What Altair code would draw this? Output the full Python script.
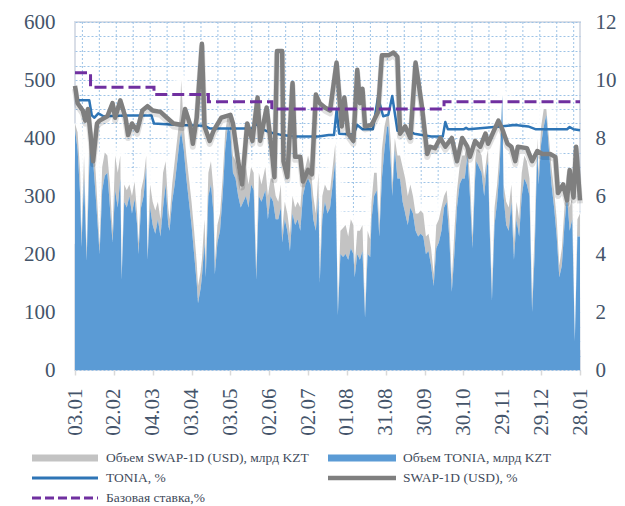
import altair as alt
import pandas as pd

START = pd.Timestamp("2018-01-03")

# ---- volumes (day offset from 03.01.2018), bn KZT ----
vol_days = [0, 2, 4, 5, 7, 9, 11, 12, 14, 16, 19, 21, 23, 25, 27, 29, 31, 33, 35, 36,
            38, 40, 42, 44, 46, 48, 49, 51, 53, 55, 56, 58, 60, 62, 64, 66, 68, 70, 72, 73,
            75, 77, 79, 81, 82, 84, 86, 88, 90, 92, 94, 95, 97, 98, 100, 101, 103, 105, 107, 108,
            110, 112, 114, 116, 118, 120, 122, 124, 126, 128, 130, 132, 134, 136, 138, 140, 142, 144, 147, 149,
            151, 153, 155, 157, 159, 160, 162, 164, 166, 168, 170, 172, 174, 176, 178, 180, 182, 184, 186, 188,
            189, 191, 193, 195, 197, 199, 201, 203, 205, 207, 209, 211, 213, 215, 216, 218, 220, 222, 224, 226,
            228, 229, 231, 233, 235, 237, 239, 241, 242, 244, 245, 247, 249, 251, 253, 255, 257, 259, 261, 263,
            265, 267, 269, 271, 273, 275, 277, 279, 281, 283, 285, 287, 289, 291, 293, 295, 297, 299, 301, 303,
            305, 307, 309, 310, 312, 314, 316, 318, 319, 320, 322, 324, 326, 328, 330, 331, 333, 335, 337, 339,
            341, 343, 345, 347, 349, 351, 353, 355, 357, 358, 360, 362, 364, 366, 368, 370, 372, 374, 376, 378,
            380, 382, 384, 386, 388, 390]
tonia_volume = [415, 380, 300, 212, 330, 188, 350, 390, 360, 300, 200, 310, 335, 340, 280, 220, 310, 280, 330, 155,
                290, 280, 300, 270, 295, 250, 200, 280, 300, 350, 190, 280, 250, 235, 260, 230, 280, 320, 250, 240,
                290, 320, 360, 400, 410, 380, 330, 290, 250, 200, 150, 115, 140, 160, 220, 160, 300, 320, 270, 165,
                220, 240, 300, 380, 420, 410, 340, 330, 300, 280, 290, 300, 280, 320, 310, 155, 300, 290, 310, 260,
                300, 290, 260, 260, 280, 220, 260, 240, 205, 270, 250, 260, 240, 300, 320, 330, 320, 260, 240, 300,
                150, 260, 290, 270, 280, 320, 360, 95, 200, 195, 200, 190, 210, 200, 160, 200, 190, 205, 90, 200,
                195, 260, 300, 310, 230, 330, 380, 420, 420, 350, 300, 380, 330, 330, 290, 270, 250, 280, 270, 240,
                230, 235, 230, 200, 205, 180, 145, 210, 220, 240, 280, 290, 230, 135, 200, 280, 320, 330, 330, 370,
                300, 210, 330, 360, 350, 340, 300, 350, 360, 260, 120, 250, 290, 350, 475, 300, 250, 240, 290, 190,
                260, 230, 300, 330, 320, 300, 100, 200, 380, 320, 390, 420, 440, 380, 320, 280, 230, 160, 180, 250,
                300, 240, 260, 50, 230, 230]
swap_volume = [10, 30, 40, 20, 40, 15, 50, 40, 40, 40, 15, 40, 40, 30, 40, 20, 60, 60, 40, 10,
               30, 30, 20, 30, 30, 20, 20, 30, 30, 20, 10, 40, 40, 40, 30, 30, 60, 40, 30, 20,
               30, 40, 40, 40, 90, 40, 40, 40, 40, 40, 35, 30, 30, 30, 40, 30, 40, 40, 40, 20,
               30, 30, 30, 30, 20, 20, 30, 30, 40, 30, 40, 50, 40, 30, 30, 20, 40, 30, 40, 40,
               30, 40, 40, 30, 40, 20, 30, 30, 30, 30, 30, 30, 40, 40, 30, 40, 30, 40, 30, 40,
               20, 40, 30, 40, 30, 30, 30, 10, 40, 50, 50, 40, 50, 50, 20, 40, 50, 45, 10, 40,
               30, 30, 40, 30, 20, 50, 40, 20, 30, 40, 20, 20, 40, 40, 60, 60, 50, 40, 30, 30,
               40, 40, 40, 30, 30, 30, 20, 40, 40, 40, 20, 20, 30, 20, 40, 30, 30, 40, 40, 20,
               30, 20, 30, 20, 30, 30, 30, 20, 20, 20, 20, 30, 30, 30, 0, 20, 40, 40, 30, 30,
               30, 30, 40, 40, 40, 30, 20, 40, 20, 20, 30, 30, 10, 20, 30, 30, 30, 20, 30, 30,
               40, 40, 40, 0, 30, 40]

# ---- rates, % ----
tonia_days = [0, 11, 13, 15, 18, 22, 40, 59, 61, 80, 100, 104, 137, 140, 143, 150, 160, 170, 188, 196,
              200, 202, 204, 215, 218, 222, 230, 234, 238, 242, 245, 249, 255, 262, 275, 284, 286, 288, 300, 302,
              304, 328, 340, 350, 356, 380, 382, 385, 390]
tonia_rate = [9.3, 9.3, 8.78, 8.7, 8.85, 8.75, 8.78, 8.78, 8.5, 8.45, 8.42, 8.33, 8.33, 8.5, 8.33, 8.2, 8.1, 8.05, 8.05, 8.1,
              8.1, 8.95, 8.15, 8.12, 8.45, 8.3, 8.3, 9.4, 8.75, 8.8, 9.45, 8.25, 8.3, 8.15, 8.05, 8.05, 8.55, 8.3, 8.3, 8.35,
              8.3, 8.4, 8.45, 8.4, 8.3, 8.3, 8.38, 8.3, 8.27]

swap_days = [0, 2, 6, 8, 10, 14, 17, 19, 25, 29, 31, 35, 39, 41, 44, 48, 52, 56, 60, 66,
             71, 76, 83, 85, 89, 91, 94, 98, 100, 104, 107, 113, 120, 122, 126, 129, 133, 137, 141, 143,
             148, 152, 154, 156, 160, 161, 164, 168, 170, 174, 176, 180, 183, 186, 189, 193, 197, 202, 206, 208,
             211, 215, 218, 220, 222, 224, 229, 234, 237, 242, 246, 249, 251, 255, 259, 263, 265, 268, 272, 274,
             278, 282, 286, 291, 295, 299, 303, 305, 309, 313, 317, 319, 323, 327, 330, 334, 337, 340, 342, 349,
             353, 357, 361, 367, 371, 373, 377, 380, 382, 385, 387, 390]
swap_rate = [9.8, 9.2, 8.95, 8.6, 9.0, 7.2, 8.5, 8.6, 8.75, 9.2, 8.7, 9.3, 8.7, 8.1, 8.5, 8.25, 8.95, 9.1, 8.95, 8.9,
             8.7, 8.5, 8.45, 9.0, 8.45, 7.8, 8.7, 11.25, 8.4, 7.9, 8.25, 8.7, 8.8, 8.5, 7.2, 6.4, 8.5, 7.9, 9.4, 7.9,
             9.05, 7.55, 6.65, 11.0, 11.0, 7.2, 6.65, 9.9, 7.35, 7.35, 6.5, 6.9, 6.75, 9.5, 9.2, 9.05, 8.95, 10.6, 8.4, 9.4,
             8.15, 7.9, 10.35, 9.2, 9.7, 8.4, 8.45, 8.9, 10.85, 10.85, 10.95, 10.8, 8.15, 8.4, 8.0, 10.6, 10.0, 9.05, 7.45, 7.7,
             7.65, 8.0, 7.7, 8.0, 7.2, 8.0, 7.7, 7.35, 7.9, 7.7, 8.15, 7.8, 8.2, 8.6, 8.3, 7.8, 7.7, 7.2, 7.7, 7.65,
             7.2, 7.55, 7.45, 7.45, 7.35, 6.1, 6.4, 5.85, 6.9, 5.95, 7.7, 5.85]

base_dates = ["2018-01-03", "2018-01-15", "2018-03-05", "2018-04-16", "2018-06-04", "2018-10-15", "2019-01-28"]
base_rate = [10.25, 9.75, 9.5, 9.25, 9.0, 9.25, 9.25]

tick_dates = ["2018-01-03", "2018-02-02", "2018-03-04", "2018-04-03", "2018-05-03", "2018-06-02",
              "2018-07-02", "2018-08-01", "2018-08-31", "2018-09-30", "2018-10-30", "2018-11-29",
              "2018-12-29", "2019-01-28"]

legend_labels = ["Объем SWAP-1D (USD), млрд KZT", "Объем TONIA, млрд KZT", "TONIA, %",
                 "SWAP-1D (USD), %", "Базовая ставка,%"]

# ---- frames ----
vol = pd.DataFrame({"date": START + pd.to_timedelta(vol_days, unit="D"),
                    "tonia": tonia_volume, "swap": swap_volume})
vol["total"] = vol["tonia"] + vol["swap"]
tonia_df = pd.DataFrame({"date": START + pd.to_timedelta(tonia_days, unit="D"), "rate": tonia_rate})
swap_df = pd.DataFrame({"date": START + pd.to_timedelta(swap_days, unit="D"), "rate": swap_rate})
base_df = pd.DataFrame({"date": pd.to_datetime(base_dates), "rate": base_rate})
grid_df = pd.DataFrame({"date": pd.date_range("2018-01-08 17:00", periods=30, freq="314h")})
one = pd.DataFrame({"k": [0]})

W, H = 505, 348
FONT = "Liberation Serif"
LABEL_COLOR = "#44546A"
AXIS_FS = 21


def dt(s):
    t = pd.Timestamp(s)
    return alt.DateTime(year=t.year, month=t.month, date=t.day)


x_scale = alt.Scale(domain=[dt("2018-01-03"), dt("2019-01-28")])
x_axis = alt.Axis(values=[dt(s) for s in tick_dates], format="%d.%m", labelAngle=270,
                  labelFont=FONT, labelFontSize=AXIS_FS, labelColor=LABEL_COLOR, labelPadding=13,
                  tickSize=5, tickColor="#D9D9D9", tickWidth=1.5, domain=False, grid=False,
                  title=None, labelOverlap=False)
# identical axis definition on every layer so the shared x axis merges cleanly
X = alt.X("date:T", scale=x_scale, axis=x_axis)

left_scale = alt.Scale(domain=[0, 600], nice=False, zero=True)
left_axis = alt.Axis(values=list(range(0, 601, 25)),
                     labelExpr="datum.value % 100 === 0 ? datum.label : ''",
                     grid=True, gridDash=[2, 2], gridColor="#9DC3E6", gridWidth=1,
                     ticks=False, domain=False, labelFont=FONT, labelFontSize=AXIS_FS,
                     labelColor=LABEL_COLOR, labelPadding=20, title=None, labelOverlap=False)
right_scale = alt.Scale(domain=[0, 12], nice=False, zero=True)
right_axis = alt.Axis(orient="right", values=[0, 2, 4, 6, 8, 10, 12], grid=False, ticks=False,
                      domain=False, labelFont=FONT, labelFontSize=AXIS_FS, labelColor=LABEL_COLOR,
                      labelPadding=15, title=None)

vgrid = alt.Chart(grid_df).mark_rule(color="#9DC3E6", strokeDash=[2, 2], strokeWidth=1).encode(x=X)

glow_wide = alt.Chart(vol).mark_line(color="white", strokeWidth=22, opacity=0.45,
                                     strokeJoin="round").encode(
    x=X, y=alt.Y("total:Q", scale=left_scale, axis=None))
glow_narrow = alt.Chart(vol).mark_line(color="white", strokeWidth=10, opacity=0.85,
                                       strokeJoin="round").encode(
    x=X, y=alt.Y("total:Q", scale=left_scale, axis=None))
grey_area = alt.Chart(vol).mark_area(color="#C3C3C3", opacity=1).encode(
    x=X, y=alt.Y("total:Q", scale=left_scale, axis=left_axis), y2="tonia:Q")
blue_area = alt.Chart(vol).mark_area(color="#5B9BD5", opacity=1).encode(
    x=X, y=alt.Y("tonia:Q", scale=left_scale, axis=None))

tonia_line = alt.Chart(tonia_df).mark_line(color="#2E75B6", strokeWidth=2.5,
                                           strokeJoin="round").encode(
    x=X, y=alt.Y("rate:Q", scale=right_scale, axis=None))
swap_shadow = alt.Chart(swap_df).mark_line(color="#000000", strokeWidth=6, opacity=0.12, yOffset=3,
                                           strokeJoin="round").encode(
    x=X, y=alt.Y("rate:Q", scale=right_scale, axis=None))
swap_line = alt.Chart(swap_df).mark_line(color="#7F7F7F", strokeWidth=4.5,
                                         strokeJoin="round").encode(
    x=X, y=alt.Y("rate:Q", scale=right_scale, axis=None))
base_line = alt.Chart(base_df).mark_line(color="#7030A0", strokeWidth=3, strokeDash=[12, 5],
                                         interpolate="step-after").encode(
    x=X, y=alt.Y("rate:Q", scale=right_scale, axis=right_axis))


# ---- manual legend ----
def swatch(x1, x2, y, color, width, dash=None):
    kw = dict(color=color, strokeWidth=width)
    if dash:
        kw["strokeDash"] = dash
    return alt.Chart(one).mark_rule(**kw).encode(x=alt.value(x1), x2=alt.value(x2), y=alt.value(y))


def label(x, y, text):
    return alt.Chart(one).mark_text(align="left", baseline="middle", font=FONT, fontSize=13.5,
                                    color="#3F4B5B").encode(
        x=alt.value(x), y=alt.value(y), text=alt.value(text))


R1, R2, R3 = 436, 456, 476
legend_items = [
    swatch(-43, 23, R1, "#C3C3C3", 7), label(31, R1, legend_labels[0]),
    swatch(253, 321, R1, "#5B9BD5", 7), label(328, R1, legend_labels[1]),
    swatch(-43, 23, R2, "#2E75B6", 3), label(31, R2, legend_labels[2]),
    swatch(253, 321, R2, "#7F7F7F", 4.5), label(328, R2, legend_labels[3]),
    swatch(-43, 23, R3, "#7030A0", 3, [9, 4]), label(31, R3, legend_labels[4]),
]

chart = alt.layer(
    vgrid, glow_wide, glow_narrow, grey_area, blue_area,
    tonia_line, swap_shadow, swap_line, base_line,
    *legend_items,
).resolve_scale(y="independent").properties(
    width=W, height=H,
    autosize=alt.AutoSizeParams(type="none"),
    padding={"left": 67, "top": 14, "right": 37, "bottom": 136},
    background="white",
).configure_view(stroke="#D9DEE7", strokeWidth=2)

chart.save("out.html", embed_options={"renderer": "svg", "actions": False})
